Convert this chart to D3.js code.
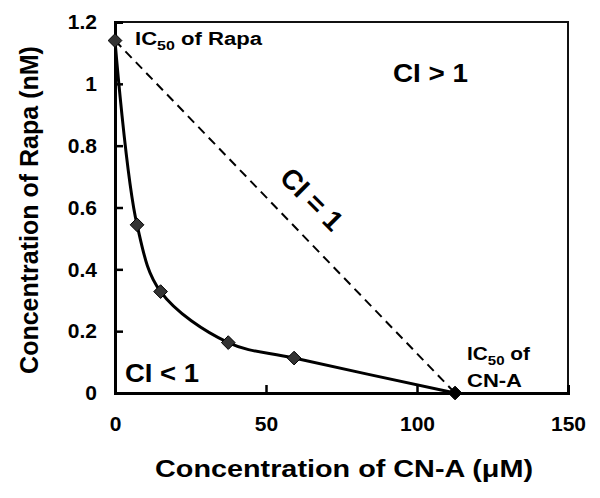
<!DOCTYPE html>
<html>
<head>
<meta charset="utf-8">
<script src="https://cdn.jsdelivr.net/npm/d3@7"></script>
<style>
  body { margin: 0; background: #fff; }
  text { font-family: "Liberation Sans", Arial, sans-serif; font-weight: bold; }
</style>
</head>
<body>
<script>
// isobologram data
var cnA = [0, 7.3, 15.1, 37.5, 59.3, 112.6];
var rapa = [1.14, 0.544, 0.328, 0.163, 0.113, 0];
var additiveLine = [[0, 1.14], [112.6, 0]];
var xTicks = [0, 50, 100, 150];
var yTicks = [0, 0.2, 0.4, 0.6, 0.8, 1, 1.2];

var margin = {top: 22, right: 32, bottom: 105, left: 115};
var width = 600 - margin.left - margin.right;
var height = 498 - margin.top - margin.bottom;

var svg = d3.select("body").append("svg")
    .attr("width", 600)
    .attr("height", 498);

var g = svg.append("g")
    .attr("transform", "translate(" + margin.left + "," + margin.top + ")");

var xScale = d3.scaleLinear().domain([0, 150]).range([0, width]);
var yScale = d3.scaleLinear().domain([0, 1.2]).range([height, 0]);

// frame
g.append("rect")
    .attr("width", width)
    .attr("height", height)
    .attr("style", "fill:none;stroke:#111;stroke-width:2px;");

var xAxis = d3.axisBottom(xScale).tickValues(xTicks).tickSize(-8).tickPadding(23)
    .tickFormat(d3.format("d"));
var yAxis = d3.axisLeft(yScale).tickValues(yTicks).tickSize(-8).tickPadding(18)
    .tickFormat(function(d) { return d3.format("")(d); });

var gx = g.append("g").attr("transform", "translate(0," + height + ")").call(xAxis);
var gy = g.append("g").call(yAxis);

[gx, gy].forEach(function(a) {
  a.select(".domain").attr("stroke", "#000").attr("stroke-width", 3);
  a.selectAll(".tick line").attr("stroke", "#000").attr("stroke-width", 2.5);
  a.selectAll(".tick text").attr("fill", "#000").style("font-size", "21px").style("font-weight", "bold")
      .style("font-family", "'Liberation Sans', Arial, sans-serif");
});
gx.selectAll(".tick").filter(function(d) { return d === 0 || d === 150; }).select("line").remove();
gy.selectAll(".tick").filter(function(d) { return d === 0 || d === 1.2; }).select("line").remove();

// additive line
var line = d3.line()
    .x(function(d) { return xScale(d[0]); })
    .y(function(d) { return yScale(d[1]); });

g.append("path")
    .datum(additiveLine)
    .attr("d", line)
    .attr("style", "stroke:#000;fill:none;stroke-width:2px;stroke-dasharray:9,6;");

var pts = cnA.map(function(x, i) { return [x, rapa[i]]; });

g.append("path")
    .datum(pts)
    .attr("d", line.curve(d3.curveCatmullRom.alpha(0.5)))
    .attr("style", "stroke:#000;fill:none;stroke-width:3px;");

g.selectAll(".pt")
    .data(pts)
    .enter().append("path")
    .attr("class", "pt")
    .attr("transform", function(d) { return "translate(" + xScale(d[0]) + "," + yScale(d[1]) + ")"; })
    .attr("d", d3.symbol().type(d3.symbolDiamond2).size(120))
    .attr("fill", function(d, i) { return i === pts.length - 1 ? "#000" : "#333"; })
    .attr("stroke", "#000")
    .attr("stroke-width", 1);

// annotations
var ic1 = g.append("text").attr("x", 20).attr("y", 23).style("font-size", "18px")
    .attr("textLength", 127).attr("lengthAdjust", "spacingAndGlyphs");
ic1.append("tspan").text("IC");
ic1.append("tspan").attr("dy", 5).style("font-size", "13px").text("50");
ic1.append("tspan").attr("dy", -5).text(" of Rapa");

var ic2 = g.append("text").attr("x", 352).attr("y", 338).style("font-size", "18px")
    .attr("textLength", 63).attr("lengthAdjust", "spacingAndGlyphs");
ic2.append("tspan").text("IC");
ic2.append("tspan").attr("dy", 5).style("font-size", "13px").text("50");
ic2.append("tspan").attr("dy", -5).text(" of");
g.append("text").attr("x", 352).attr("y", 365).style("font-size", "18px")
    .attr("textLength", 55).attr("lengthAdjust", "spacingAndGlyphs").text("CN-A");

g.append("text").attr("x", 278).attr("y", 60).style("font-size", "26px")
    .attr("textLength", 75).attr("lengthAdjust", "spacingAndGlyphs").text("CI > 1");
g.append("text").attr("x", 10).attr("y", 360).style("font-size", "26px")
    .attr("textLength", 74).attr("lengthAdjust", "spacingAndGlyphs").text("CI < 1");
g.append("text")
    .attr("transform", "translate(190,184) rotate(45)")
    .attr("text-anchor", "middle")
    .style("font-size", "28px")
    .text("CI = 1");

// axis titles
svg.append("text")
    .attr("x", 155)
    .attr("y", 477)
    .attr("textLength", 378)
    .attr("lengthAdjust", "spacingAndGlyphs")
    .style("font-size", "24px")
    .text("Concentration of CN-A (\u03bcM)");

svg.append("text")
    .attr("transform", "translate(38,210) rotate(-90)")
    .attr("text-anchor", "middle")
    .style("font-size", "25px")
    .text("Concentration of Rapa (nM)");
</script>
</body>
</html>
